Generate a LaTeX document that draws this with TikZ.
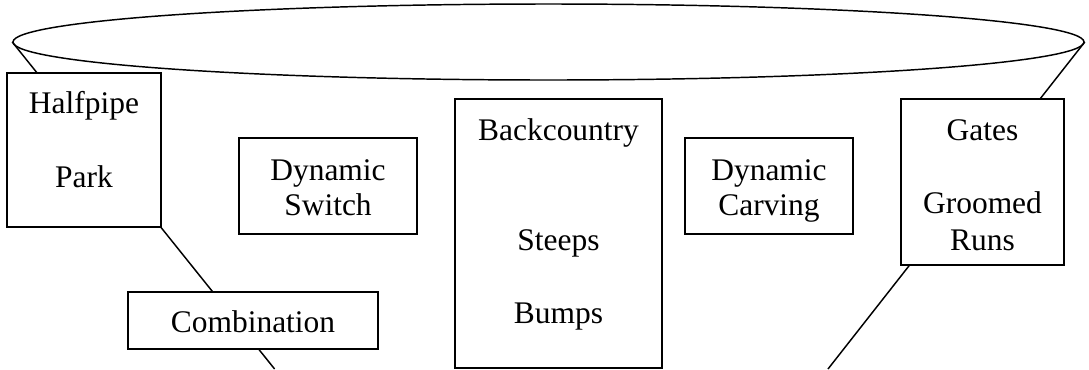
\documentclass[tikz,border=0pt]{standalone}
\usepackage{fontspec}
\setmainfont{Liberation Serif}
\usetikzlibrary{shapes.geometric}

\begin{document}
\begin{tikzpicture}[x=0.75pt, y=-0.75pt, line width=1.1pt,
                    rim/.style = {
                      ellipse, draw, inner sep=0pt,
                      minimum width=1071*0.75pt, minimum height=76*0.75pt
                    },
                    runbox/.style 2 args = {
                      rectangle, draw, fill=white, inner sep=0pt,
                      minimum width=#1*0.75pt, minimum height=#2*0.75pt
                    },
                    lbl/.style = {
                      anchor=base, inner sep=0pt,
                      font=\fontsize{23.6}{27}\selectfont
                    }]
    \useasboundingbox (0,0) rectangle (1089,369);

    % funnel rim and sides
    \node (rim) [rim] at (548.5,42) {};
    \coordinate (leftfoot) at (274.6,369);
    \coordinate (rightfoot) at (828,369);
    \draw (rim.west) -- (leftfoot);
    \draw (rim.east) -- (rightfoot);

    % boxes
    \node (halfpipe) [runbox={154}{154}] at (84,150) {};
    \node (switch) [runbox={178}{96}] at (328,186) {};
    \node (combo) [runbox={250}{57}] at (253,320.5) {};
    \node (backcountry) [runbox={207}{269}] at (558.5,233.5) {};
    \node (carving) [runbox={168}{96}] at (769,186) {};
    \node (gates) [runbox={163}{166}] at (982.5,182) {};

    % texts
    \node (halfpipe1) [lbl] at (84,113) {Halfpipe};
    \node (halfpipe2) [lbl] at (84,187) {Park};
    \node (switch1) [lbl] at (328,180) {Dynamic};
    \node (switch2) [lbl] at (328,215) {Switch};
    \node (combo1) [lbl] at (253,332) {Combination};
    \node (backcountry1) [lbl] at (558.5,140) {Backcountry};
    \node (backcountry2) [lbl] at (558.5,250) {Steeps};
    \node (backcountry3) [lbl] at (558.5,323) {Bumps};
    \node (carving1) [lbl] at (769,180) {Dynamic};
    \node (carving2) [lbl] at (769,215) {Carving};
    \node (gates1) [lbl] at (982.5,140) {Gates};
    \node (gates2) [lbl] at (982.5,213) {Groomed};
    \node (gates3) [lbl] at (982.5,250) {Runs};
\end{tikzpicture}
\end{document}
